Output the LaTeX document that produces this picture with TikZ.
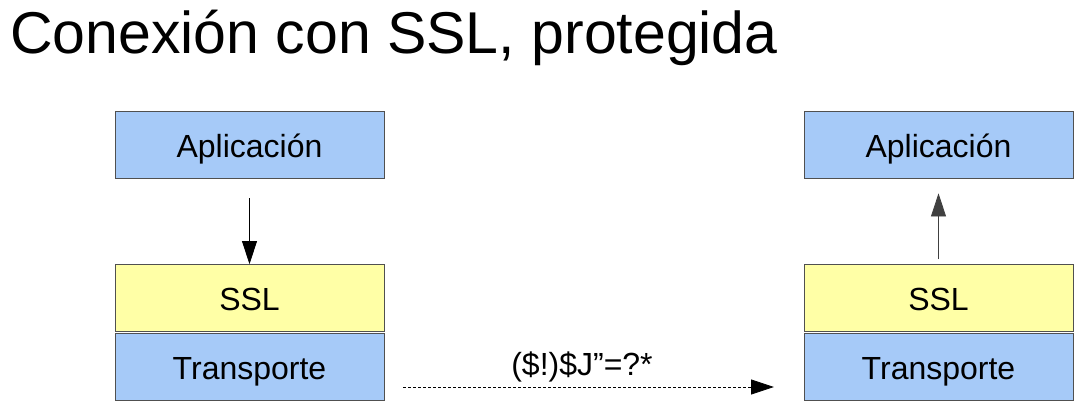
\documentclass[tikz,border=0pt]{standalone}
\usepackage{fontspec}
\setmainfont{Liberation Sans}
\usetikzlibrary{arrows.meta}
\definecolor{boxblue}{RGB}{166,202,248}
\definecolor{boxyellow}{RGB}{255,255,166}
\definecolor{boxline}{RGB}{80,80,80}
\tikzset{
  layer/.style={draw=boxline, line width=0.8pt, minimum width=269pt, minimum height=67pt, inner sep=0pt, text height=25pt, text depth=0pt, font=\fontsize{32}{36}\selectfont},
  bluebox/.style={layer, fill=boxblue},
  yellowbox/.style={layer, fill=boxyellow},
  flow/.style={line width=0.8pt, -{Triangle[length=23pt,width=15pt]}},
  dotflow/.style={line width=0.8pt, dash pattern=on 3pt off 2pt, -{Triangle[length=23pt,width=15pt]}},
}
\begin{document}
\begin{tikzpicture}[x=1pt,y=-1pt]
\useasboundingbox (0,0) rectangle (1088,418);
\node[anchor=base west, font=\fontsize{59}{66}\selectfont, inner sep=0pt] (title) at (10,53) {Conexión con SSL, protegida};
% left stack
\node[bluebox] (la) at (249.5,144.5) {Aplicación};
\node[yellowbox] (ls) at (249.5,298) {SSL};
\node[bluebox] (lt) at (249.5,366.5) {Transporte};
% right stack
\node[bluebox] (ra) at (938.5,144.5) {Aplicación};
\node[yellowbox] (rs) at (938.5,298) {SSL};
\node[bluebox] (rt) at (938.5,366.5) {Transporte};
% arrows
\draw[flow, shorten <=20pt] (la.south) -- (ls.north);
\draw[flow, draw=black!75, fill=black, shorten <=5pt, shorten >=15pt] (rs.north) -- (ra.south);
\coordinate (d1) at (403,387);
\coordinate (d2) at (774,387);
\draw[dotflow] (d1) -- (d2);
\node[font=\fontsize{32}{36}\selectfont, anchor=base, inner sep=0pt] (lbl) at (582,375) {(\$!)\$J”=?*};
\end{tikzpicture}
\end{document}
